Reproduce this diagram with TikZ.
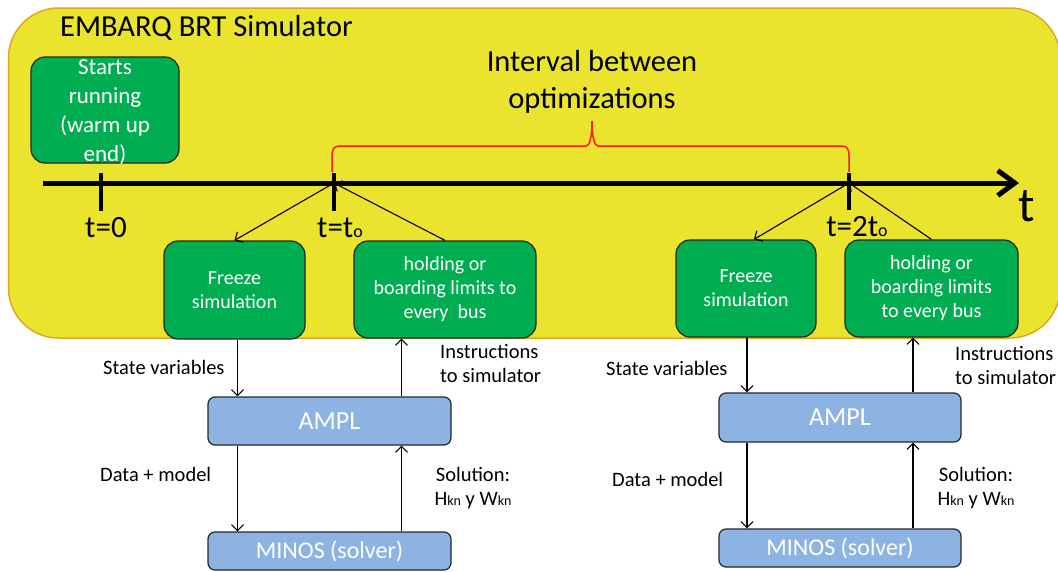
\documentclass[tikz,border=0pt]{standalone}
\usepackage{fontspec}
\setmainfont{Carlito}
\usetikzlibrary{arrows.meta,calc}
\definecolor{simyellow}{HTML}{EAE42E}
\definecolor{simgold}{HTML}{DDA824}
\definecolor{boxgreen}{HTML}{00AD50}
\definecolor{boxblue}{HTML}{8DB3E2}
\definecolor{bracered}{HTML}{FF1A00}
\newcommand{\subk}[1]{{\fontsize{14}{14}\selectfont #1}}
\begin{document}
\begin{tikzpicture}[x=1pt,y=-1pt,
  gbox/.style={draw=black!85, line width=1.2pt, fill=boxgreen, rounded corners=14pt, text=white, align=center, inner sep=0pt, font=\fontsize{20}{24}\selectfont},
  bbox/.style={draw=black!85, line width=1.2pt, fill=boxblue, rounded corners=7pt, text=white, inner sep=0pt},
  lbl/.style={inner sep=0pt, font=\fontsize{20.5}{24}\selectfont},
  conn/.style={line width=1.1pt, -{Straight Barb[length=6pt,width=12pt]}},
  tickmark/.style={line width=4pt},
  timefont/.style={inner sep=0pt, font=\fontsize{31}{33}\selectfont}]
\useasboundingbox (0,0) rectangle (1058,571);
% simulator region
\draw[simgold, line width=1.5pt, fill=simyellow, rounded corners=50pt] (8.5,8) rectangle (1060,338);
\node[anchor=base west, inner sep=0pt, font=\fontsize{30.5}{34}\selectfont] (title) at (60,36) {EMBARQ BRT Simulator};
% time line
\coordinate (tlstart) at (43,183);
\coordinate (tlend) at (1019,183);
\draw[line width=5pt, -{Straight Barb[length=17pt,width=25pt]}] (tlstart) -- (tlend);
\node[inner sep=0pt, font=\fontsize{49}{50}\selectfont] (tlab) at (1027,206) {t};
\coordinate (t0) at (101,183);
\coordinate (t1) at (334,183);
\coordinate (t2) at (849,183);
\draw[tickmark] ($(t0)+(0,-10)$) -- ($(t0)+(0,28)$);
\draw[tickmark] ($(t1)+(0,-10)$) -- ($(t1)+(0,28)$);
\draw[tickmark] ($(t2)+(0,-10)$) -- ($(t2)+(0,27)$);
\node[timefont] (l0) at (106,228) {t=0};
\node[timefont] (l1) at (340,228) {t=t\fontsize{18}{18}\selectfont o};
\node[timefont] (l2) at (857,227) {t=2t\fontsize{18}{18}\selectfont o};
% brace
\draw[bracered, line width=1.5pt] (332,172) -- (332,156) .. controls (332,149) and (334,146) .. (340,146)
  -- (586,146) .. controls (590,146) and (592,136) .. (592,121) .. controls (592,136) and (594,146) .. (598,146)
  -- (842,146) .. controls (847,146) and (849,149) .. (849,156) -- (849,172);
\node[inner sep=0pt, align=center, font=\fontsize{30.5}{37}\selectfont] (interval) at (592,82) {Interval between\\optimizations};
% green boxes
\node[gbox, minimum width=148pt, minimum height=106pt, font=\fontsize{23}{29}\selectfont] (start) at (105,110)
  {\raisebox{-8.5pt}[0pt][0pt]{\begin{tabular}{@{}c@{}}Starts\\running\\(warm up\\end)\end{tabular}}};
\node[gbox, minimum width=141pt, minimum height=98pt] (f1) at (234.5,290) {Freeze\\simulation};
\node[gbox, minimum width=182pt, minimum height=97pt] (h1) at (445,289.5) {holding or\\boarding limits to\\every\ \ bus};
\node[gbox, minimum width=140pt, minimum height=97pt] (f2) at (746,288.5) {Freeze\\simulation};
\node[gbox, minimum width=173pt, minimum height=97pt] (h2) at (931.5,288.5) {holding or\\boarding limits\\to every bus};
% blue boxes
\node[bbox, minimum width=243pt, minimum height=48pt, font=\fontsize{26}{28}\selectfont] (a1) at (329.5,421) {AMPL};
\node[bbox, minimum width=243pt, minimum height=38pt, font=\fontsize{24}{26}\selectfont] (m1) at (329.5,551) {MINOS (solver)};
\node[bbox, minimum width=242pt, minimum height=49pt, font=\fontsize{26}{28}\selectfont] (a2) at (840,417.5) {AMPL};
\node[bbox, minimum width=242pt, minimum height=38pt, font=\fontsize{24}{26}\selectfont] (m2) at (840,548) {MINOS (solver)};
% arrows from time line
\draw[conn] (t1) -- (f1.north);
\draw[conn] (h1.north) -- (t1);
\draw[conn] (t2) -- ([xshift=8pt]f2.north);
\draw[conn] (h2.north) -- (t2);
% vertical arrows, set 1
\coordinate (a1in) at ([xshift=-92pt]a1.north);
\coordinate (a1out) at ([xshift=72pt]a1.north);
\draw[conn] (f1.south -| a1in) -- (a1in);
\draw[conn] (a1out) -- (a1out |- h1.south);
\draw[conn] (a1.south -| a1in) -- (a1in |- m1.north);
\draw[conn] (m1.north -| a1out) -- (a1out |- a1.south);
% vertical arrows, set 2
\coordinate (a2in) at ([xshift=-93pt]a2.north);
\coordinate (a2out) at ([xshift=73pt]a2.north);
\draw[conn] (f2.south -| a2in) -- (a2in);
\draw[conn] (a2out) -- (a2out |- h2.south);
\draw[conn] (a2.south -| a2in) -- (a2in |- m2.north);
\draw[conn] (m2.north -| a2out) -- (a2out |- a2.south);
% labels set 1
\node[lbl, anchor=base west] (sv1) at (103,374) {State variables};
\node[lbl, anchor=base west, align=left] (ins1) at (440,382) {Instructions\\to simulator};
\node[lbl, anchor=base west] (dm1) at (100,481) {Data + model};
\node[lbl, anchor=base, align=center] (sol1) at (473,505) {Solution:\\H\subk{kn} y W\subk{kn}};
% labels set 2
\node[lbl, anchor=base west] (sv2) at (606,375) {State variables};
\node[lbl, anchor=base west, align=left] (ins2) at (955,384) {Instructions\\to simulator};
\node[lbl, anchor=base west] (dm2) at (612,486) {Data + model};
\node[lbl, anchor=base, align=center] (sol2) at (976,505) {Solution:\\H\subk{kn} y W\subk{kn}};
\end{tikzpicture}
\end{document}
